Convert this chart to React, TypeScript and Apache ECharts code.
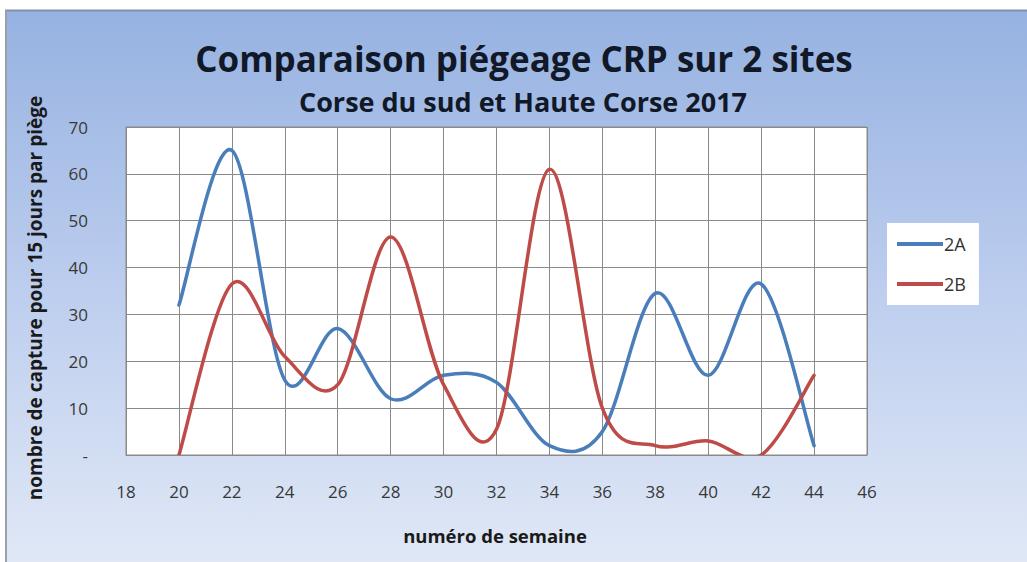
import React, { useEffect, useRef } from "react";
import * as echarts from "echarts";

const weeks = [20, 22, 24, 26, 28, 30, 32, 34, 36, 38, 40, 42, 44];
const series2A = [32, 65, 16, 27, 12, 17, 15.5, 2, 5, 34.5, 17, 36.5, 2];
const series2B = [0, 36.5, 21, 15, 46.5, 15, 5.5, 61, 10, 2, 3, 0, 17];
const seriesNames = ["2A", "2B"];
const seriesColors = ["#4a7ebb", "#be4b48"];
const titleText = "Comparaison piégeage CRP sur 2 sites";
const subtitleText = "Corse du sud et Haute Corse 2017";
const xName = "numéro de semaine";
const yName = "nombre de capture pour 15 jours par piège";

const FONT = "'Open Sans', sans-serif";

function makeSeries(name: string, values: number[], color: string) {
  const data = weeks.map((w, i) => [w, values[i]]);
  return {
    name,
    type: "custom",
    data,
    clip: true,
    encode: { x: 0, y: 1 },
    itemStyle: { color },
    renderItem: (params: any, api: any) => {
      if (params.dataIndex !== 0) return null;
      const pts = data.map((d) => api.coord(d));
      const n = pts.length;
      let d = `M${pts[0][0]},${pts[0][1]}`;
      for (let i = 0; i < n - 1; i++) {
        const p0 = pts[Math.max(0, i - 1)];
        const p1 = pts[i];
        const p2 = pts[i + 1];
        const p3 = pts[Math.min(n - 1, i + 2)];
        const c1x = p1[0] + (p2[0] - p0[0]) / 6;
        const c1y = p1[1] + (p2[1] - p0[1]) / 6;
        const c2x = p2[0] - (p3[0] - p1[0]) / 6;
        const c2y = p2[1] - (p3[1] - p1[1]) / 6;
        d += ` C${c1x},${c1y} ${c2x},${c2y} ${p2[0]},${p2[1]}`;
      }
      const cs = params.coordSys;
      return {
        type: "group",
        children: [
          {
            type: "path",
            shape: { pathData: d },
            style: { stroke: color, fill: "none", lineWidth: 3.5, lineCap: "round", lineJoin: "round" },
          },
        ],
        clipPath: { type: "rect", shape: { x: cs.x, y: cs.y, width: cs.width, height: cs.height } },
      };
    },
  };
}

export default function App() {
  const ref = useRef<HTMLDivElement>(null);
  useEffect(() => {
    const chart = echarts.init(ref.current!, null, { renderer: "svg" });
    chart.setOption({
      animation: false,
      graphic: [
        {
          type: "rect",
          z: -10,
          shape: { x: 5, y: 10, width: 1022, height: 552 },
          style: {
            fill: new echarts.graphic.LinearGradient(0, 0, 0, 1, [
              { offset: 0, color: "#96b2e1" },
              { offset: 0.5, color: "#bccdee" },
              { offset: 1, color: "#e0e8f6" },
            ]),
          },
        },
        {
          type: "line",
          z: -9,
          shape: { x1: 5, y1: 10.5, x2: 1027, y2: 10.5 },
          style: { stroke: "#7f8fae", lineWidth: 2 },
        },
        {
          type: "line",
          z: -9,
          shape: { x1: 6, y1: 10, x2: 6, y2: 562 },
          style: { stroke: "#9a9fa8", lineWidth: 2 },
        },
        {
          type: "text",
          x: 524,
          y: 58,
          style: {
            text: titleText,
            font: `bold 35px ${FONT}`,
            fill: "#111827",
            align: "center",
            verticalAlign: "middle",
          },
        },
        {
          type: "text",
          x: 523,
          y: 101,
          style: {
            text: subtitleText,
            font: `bold 27px ${FONT}`,
            fill: "#111827",
            align: "center",
            verticalAlign: "middle",
          },
        },
        {
          type: "text",
          x: 35,
          y: 298,
          rotation: Math.PI / 2,
          style: {
            text: yName,
            font: `bold 19px ${FONT}`,
            fill: "#1a1a1a",
            align: "center",
            verticalAlign: "middle",
          },
        },
        {
          type: "text",
          x: 495,
          y: 535,
          style: {
            text: xName,
            font: `bold 18.5px ${FONT}`,
            fill: "#1a1a1a",
            align: "center",
            verticalAlign: "middle",
          },
        },
      ],
      grid: { left: 126, top: 127, width: 741, height: 328, show: true, backgroundColor: "#ffffff", borderColor: "#8a8a8a", borderWidth: 1 },
      legend: {
        left: 887,
        top: 223,
        orient: "vertical",
        backgroundColor: "#ffffff",
        padding: [12, 13, 12, 10],
        itemGap: 22,
        itemWidth: 46,
        itemHeight: 4,
        icon: "rect",
        textStyle: { fontSize: 18, color: "#333", fontFamily: FONT, padding: [0, 0, 0, -4] },
        data: seriesNames,
      },
      xAxis: {
        type: "value",
        min: 18,
        max: 46,
        interval: 2,
        axisLine: { show: true, lineStyle: { color: "#8a8a8a" } },
        axisTick: { show: false },
        splitLine: { show: true, lineStyle: { color: "#8a8a8a", width: 1 } },
        axisLabel: { margin: 28, fontSize: 17, color: "#383838", fontFamily: FONT },
      },
      yAxis: {
        type: "value",
        min: 0,
        max: 70,
        interval: 10,
        axisLine: { show: true, lineStyle: { color: "#8a8a8a" } },
        axisTick: { show: false },
        splitLine: { show: true, lineStyle: { color: "#8a8a8a", width: 1 } },
        axisLabel: {
          margin: 38,
          fontSize: 17,
          color: "#383838",
          fontFamily: FONT,
          formatter: (v: number) => (v === 0 ? "-" : String(v)),
        },
      },
      series: [
        makeSeries(seriesNames[0], series2A, seriesColors[0]),
        makeSeries(seriesNames[1], series2B, seriesColors[1]),
      ],
    });
    return () => chart.dispose();
  }, []);
  return (
    <div style={{ position: "fixed", left: 0, top: 0, width: 1027, height: 562, background: "#ffffff" }}>
      <div ref={ref} style={{ width: 1027, height: 562 }} />
    </div>
  );
}
